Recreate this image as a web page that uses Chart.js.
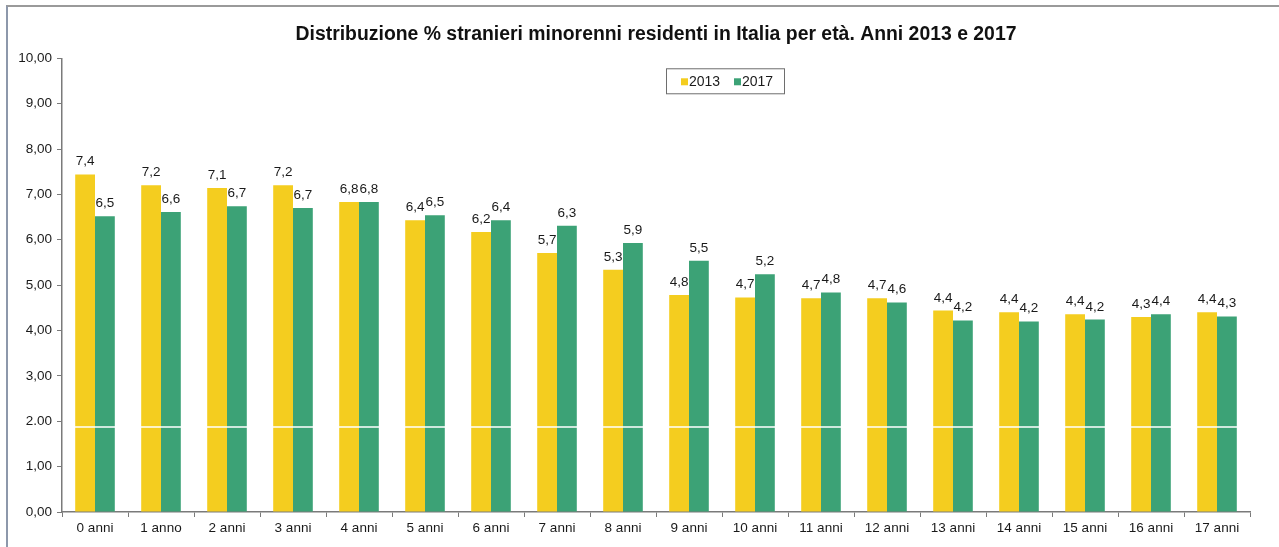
<!DOCTYPE html>
<html>
<head>
<meta charset="utf-8">
<script src="https://cdn.jsdelivr.net/npm/chart.js@4.4.1/dist/chart.umd.min.js"></script>
<style>
  html, body { margin: 0; padding: 0; background: #fff; }
  #wrap { position: relative; width: 1279px; height: 547px; overflow: hidden; }
  #frame { position: absolute; left: 6px; top: 5px; right: -2px; bottom: -2px;
           border-left: 2px solid #8d98ab; border-top: 2px solid #9a9a9a; }
  canvas { position: absolute; left: 0; top: 0; }
</style>
</head>
<body>
<div id="wrap">
  <div id="frame"></div>
  <canvas id="chart" width="1279" height="547"></canvas>
</div>
<script>
// Distribuzione % stranieri minorenni per età, 2013 vs 2017

const ages = ['0 anni', '1 anno', '2 anni', '3 anni', '4 anni', '5 anni', '6 anni', '7 anni', '8 anni',
              '9 anni', '10 anni', '11 anni', '12 anni', '13 anni', '14 anni', '15 anni', '16 anni', '17 anni'];
const values2013 = [7.44, 7.20, 7.14, 7.20, 6.83, 6.43, 6.17, 5.71, 5.34, 4.78, 4.73, 4.71, 4.71, 4.44, 4.40, 4.36, 4.30, 4.40];
const values2017 = [6.52, 6.61, 6.74, 6.70, 6.83, 6.54, 6.43, 6.31, 5.93, 5.54, 5.24, 4.84, 4.62, 4.22, 4.20, 4.24, 4.36, 4.31];
const yTicks = [0, 1, 2, 3, 4, 5, 6, 7, 8, 9, 10];

const YELLOW = '#f4cd1f';
const GREEN = '#3ca276';
const FONT = '"Liberation Sans", Arial, sans-serif';

// value labels above each bar
const barLabels = {
    id: 'barLabels',
    afterDatasetsDraw(chart) {
        const ctx = chart.ctx;
        ctx.save();
        ctx.font = '13.5px ' + FONT;
        ctx.fillStyle = '#1a1a1a';
        ctx.textAlign = 'center';
        ctx.textBaseline = 'bottom';
        chart.data.datasets.forEach((ds, i) => {
            chart.getDatasetMeta(i).data.forEach((bar, j) => {
                const txt = ds.data[j].toFixed(1).replace('.', ',');
                ctx.fillText(txt, bar.x, bar.y - 6);
            });
        });
        ctx.restore();
    }
};

// thin white break across the bars (as in the source image)
const breakLine = {
    id: 'breakLine',
    afterDatasetsDraw(chart) {
        const y = chart.scales.y.getPixelForValue(1.89);
        const ctx = chart.ctx;
        ctx.save();
        ctx.fillStyle = '#ffffff';
        ctx.fillRect(chart.chartArea.left + 1, y, chart.chartArea.right - chart.chartArea.left, 1.5);
        ctx.restore();
    }
};

// boxed legend inside the plot area
const boxLegend = {
    id: 'boxLegend',
    afterDraw(chart) {
        const ctx = chart.ctx;
        const left = chart.chartArea.left + 604;
        const top = chart.chartArea.top + 10;
        ctx.save();
        ctx.fillStyle = '#fff';
        ctx.fillRect(left, top, 118, 25);
        ctx.strokeStyle = '#6e6e6e';
        ctx.lineWidth = 1;
        ctx.strokeRect(left + 0.5, top + 0.5, 118, 25);
        ctx.font = '14px ' + FONT;
        ctx.textBaseline = 'middle';
        ctx.textAlign = 'left';
        let x = left + 15;
        chart.data.datasets.forEach(ds => {
            ctx.fillStyle = ds.backgroundColor;
            ctx.fillRect(x, top + 10, 7, 7);
            ctx.fillStyle = '#1a1a1a';
            ctx.fillText(ds.label, x + 8, top + 14);
            x += 53;
        });
        ctx.restore();
    }
};

const ctx = document.getElementById('chart').getContext('2d');
new Chart(ctx, {
    type: 'bar',
    data: {
        labels: ages,
        datasets: [
            { label: '2013', data: values2013, backgroundColor: YELLOW, categoryPercentage: 0.6, barPercentage: 1.0 },
            { label: '2017', data: values2017, backgroundColor: GREEN, categoryPercentage: 0.6, barPercentage: 1.0 }
        ]
    },
    options: {
        responsive: false,
        animation: false,
        layout: { padding: { left: 0, right: 29, top: 0, bottom: 4 } },
        plugins: {
            legend: { display: false },
            tooltip: { enabled: false },
            title: {
                display: true,
                fullSize: false,
                text: 'Distribuzione % stranieri minorenni residenti in Italia per età. Anni 2013 e 2017',
                color: '#111',
                font: { family: FONT, size: 19.4, weight: 'bold' },
                padding: { top: 23, bottom: 12 }
            }
        },
        scales: {
            x: {
                grid: { drawOnChartArea: false, drawTicks: true, tickLength: 5, color: '#7a7a7a', offset: true },
                border: { display: true, color: '#7a7a7a', width: 1.5 },
                ticks: { color: '#1a1a1a', font: { family: FONT, size: 13.5 }, padding: 3, maxRotation: 0 },
                afterFit(scale) { scale.height = 31; }
            },
            y: {
                min: 0,
                max: 10,
                afterBuildTicks(scale) { scale.ticks = yTicks.map(v => ({ value: v })); },
                grid: { drawOnChartArea: false, drawTicks: true, tickLength: 5, color: '#7a7a7a' },
                border: { display: true, color: '#7a7a7a', width: 1.5 },
                ticks: {
                    color: '#1a1a1a',
                    font: { family: FONT, size: 13.5 },
                    padding: 5,
                    callback: v => v === 2 ? '2.00' : v.toFixed(2).replace('.', ',')
                },
                afterFit(scale) { scale.width = 62; }
            }
        }
    },
    plugins: [barLabels, breakLine, boxLegend]
});
</script>
</body>
</html>
